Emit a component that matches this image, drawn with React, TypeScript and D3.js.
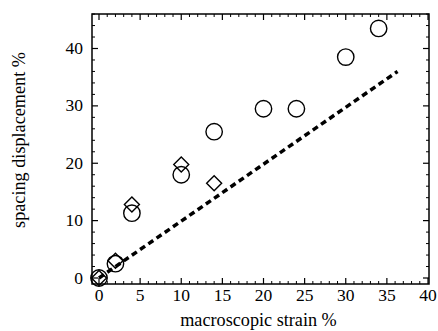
import React from "react";
import * as d3 from "d3";

const circleX = [0, 2, 4, 10, 14, 20, 24, 30, 34];
const circleY = [0, 2.5, 11.3, 18, 25.5, 29.5, 29.5, 38.5, 43.5];
const diamondX = [0, 2, 4, 10, 14];
const diamondY = [0, 3, 12.8, 19.8, 16.5];
const lineX = [0, 36.3];
const lineY = [0, 36];
const xTicks = [0, 5, 10, 15, 20, 25, 30, 35, 40];
const yTicks = [0, 10, 20, 30, 40];

export default function App() {
  const W = 438, H = 331;
  const left = 92, right = 429, top = 14, bottom = 284;
  const x = d3.scaleLinear().domain([0, 40]).range([99, 428]);
  const y = d3.scaleLinear().domain([0, 40]).range([278, 48.5]);
  const xMinor = d3.range(0, 41, 1).filter((v) => v % 5 !== 0);
  const yMinor = d3.range(2, 47, 2).filter((v) => v % 10 !== 0 && y(v) > top);
  const line = d3.line<number>().x((d) => x(lineX[d])).y((d) => y(lineY[d]));
  const tf = { fontFamily: '"Liberation Serif", Times, serif', fontSize: "17.5px" };
  const lf = { fontFamily: '"Liberation Serif", Times, serif', fontSize: "18.2px" };
  const dr = 7.5;
  return (
    <svg width={W} height={H} style={{ position: "absolute", left: 0, top: 0, background: "#fff" }}>
      <rect x={left} y={top} width={right - left} height={bottom - top} fill="none" stroke="#000" strokeWidth={1.5} />
      {xTicks.map((t) => (
        <g key={"xt" + t}>
          <line x1={x(t)} x2={x(t)} y1={bottom} y2={bottom - 6} stroke="#000" strokeWidth={1.2} />
          <line x1={x(t)} x2={x(t)} y1={top} y2={top + 6} stroke="#000" strokeWidth={1.2} />
          <text x={x(t)} y={301} textAnchor="middle" style={tf}>{t}</text>
        </g>
      ))}
      {xMinor.map((t) => (
        <g key={"xm" + t}>
          <line x1={x(t)} x2={x(t)} y1={bottom} y2={bottom - 3} stroke="#000" strokeWidth={1} />
          <line x1={x(t)} x2={x(t)} y1={top} y2={top + 3} stroke="#000" strokeWidth={1} />
        </g>
      ))}
      {yTicks.map((t) => (
        <g key={"yt" + t}>
          <line x1={left} x2={left + 6} y1={y(t)} y2={y(t)} stroke="#000" strokeWidth={1.2} />
          <line x1={right} x2={right - 6} y1={y(t)} y2={y(t)} stroke="#000" strokeWidth={1.2} />
          <text x={83} y={y(t) + 5.5} textAnchor="end" style={tf}>{t}</text>
        </g>
      ))}
      {yMinor.map((t) => (
        <g key={"ym" + t}>
          <line x1={left} x2={left + 3} y1={y(t)} y2={y(t)} stroke="#000" strokeWidth={1} />
          <line x1={right} x2={right - 3} y1={y(t)} y2={y(t)} stroke="#000" strokeWidth={1} />
        </g>
      ))}
      <path d={line([0, 1]) || ""} fill="none" stroke="#000" strokeWidth={3.5} strokeDasharray="6,4" />
      {circleX.map((v, i) => (
        <circle key={"c" + i} cx={x(v)} cy={y(circleY[i])} r={8.2} fill="none" stroke="#000" strokeWidth={1.4} />
      ))}
      {diamondX.map((v, i) => {
        const cx = x(v), cy = y(diamondY[i]);
        return (
          <path key={"d" + i} d={`M${cx},${cy - dr}L${cx + dr},${cy}L${cx},${cy + dr}L${cx - dr},${cy}Z`} fill="none" stroke="#000" strokeWidth={1.4} />
        );
      })}
      <text x={258.5} y={326} textAnchor="middle" style={lf}>macroscopic strain %</text>
      <text transform="translate(24.5,140) rotate(-90)" textAnchor="middle" style={lf}>spacing displacement %</text>
    </svg>
  );
}
